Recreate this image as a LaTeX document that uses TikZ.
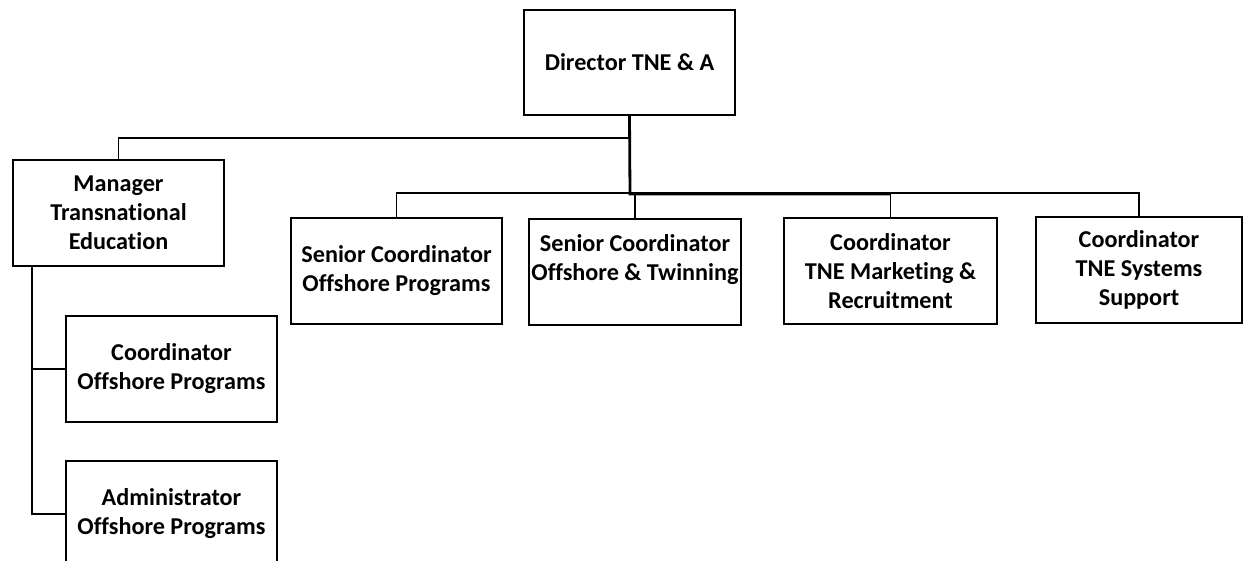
\documentclass[tikz,border=0pt]{standalone}
\usepackage{fontspec}
\setmainfont{Carlito}[Ligatures=CommonOff]
\begin{document}
\begin{tikzpicture}[x=1bp,y=-1bp,
  box/.style={draw=black, line width=2bp, fill=white, inner sep=0pt, align=center,
    font=\fontsize{24.2bp}{29bp}\selectfont\bfseries, minimum width=211bp, minimum height=106bp},
  conn/.style={draw=black, line width=1.8bp},
  trunk/.style={draw=black, line width=2.8bp}]
\useasboundingbox (0,0) rectangle (1243,561);
\clip (0,0) rectangle (1243,561);
\fill[white] (0,0) rectangle (1243,561);
\coordinate (hub) at (630,194);
% boxes
\node[box, minimum height=105bp] (dir) at (629.5,62.5) {Director TNE \& A};
\node[box] (mgr) at (118.5,213) {Manager\\Transnational\\Education};
\node[box] (scop) at (396.5,271) {Senior Coordinator\\Offshore Programs};
\node[box, minimum width=212bp] (sct) at (635,272) {Senior Coordinator\\Offshore \& Twinning\\\mbox{}};
\node[box, minimum width=213bp] (mkt) at (890.5,271) {Coordinator\\TNE Marketing \&\\Recruitment};
\node[box, minimum width=206bp] (sys) at (1139,270) {Coordinator\\TNE Systems\\Support};
\node[box] (cop) at (171.5,369) {Coordinator\\Offshore Programs};
\node[box] (adm) at (171.5,514) {Administrator\\Offshore Programs};
% connectors
\draw[conn] (dir.south) ++(0,22) -| (mgr.north);
\draw[conn] (scop.north) -- ++(0,-24) -| (sys.north);
\draw[conn] (sct.north) -- ++(0,-25);
\draw[conn] (mkt.north) -- ++(0,-24);
\draw[trunk] (dir.south) -- (hub) -- (hub -| mkt.north);
\draw[conn] ([xshift=20bp]mgr.south west) |- (cop.west);
\draw[conn] ([xshift=20bp]mgr.south west) |- (adm.west);
\end{tikzpicture}
\end{document}
